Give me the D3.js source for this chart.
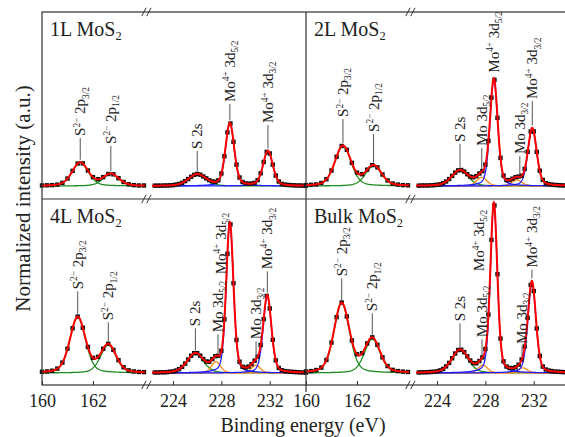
<!DOCTYPE html>
<html><head><meta charset="utf-8">
<script src="https://cdn.jsdelivr.net/npm/d3@7"></script>
<style>
html,body{margin:0;padding:0;background:#fff;}
svg, svg text{font-family:"Liberation Serif","DejaVu Serif","Times New Roman",Times,serif;}
</style></head><body>
<svg id="chart" width="565" height="437"></svg>
<script>
// ---------------- DATA ----------------
const samples = ["1L MoS_{2}", "2L MoS_{2}", "4L MoS_{2}", "Bulk MoS_{2}"];

// measured spectra (normalized intensity), S 2p window: 160.0 .. 164.0 eV, step 0.2 eV
const sStart = 160.0, sStep = 0.2;
const sData1L   = [0.003,0.004,0.005,0.008,0.018,0.043,0.087,0.129,0.130,0.089,0.051,0.039,0.051,0.069,0.067,0.045,0.023,0.010,0.005,0.003,0.003];
const sData2L   = [0.005,0.007,0.009,0.017,0.039,0.089,0.168,0.230,0.208,0.133,0.077,0.068,0.094,0.120,0.107,0.066,0.032,0.014,0.008,0.005,0.004];
const sData4L   = [0.007,0.009,0.013,0.025,0.060,0.140,0.257,0.324,0.260,0.150,0.087,0.093,0.139,0.168,0.133,0.074,0.033,0.015,0.009,0.006,0.005];
const sDataBulk = [0.009,0.011,0.017,0.031,0.075,0.175,0.321,0.405,0.325,0.187,0.108,0.114,0.170,0.205,0.162,0.090,0.040,0.018,0.011,0.008,0.006];

// measured spectra, Mo 3d / S 2s window: 222.5 .. 235.0 eV, step 0.25 eV
const moStart = 222.5, moStep = 0.25;
const moData1L   = [0.002,0.002,0.002,0.003,0.003,0.004,0.005,0.008,0.012,0.018,0.028,0.040,0.053,0.064,0.069,0.065,0.055,0.044,0.033,0.026,0.024,0.033,0.072,0.171,0.308,0.359,0.254,0.123,0.049,0.023,0.015,0.013,0.014,0.018,0.034,0.073,0.138,0.196,0.187,0.123,0.060,0.026,0.012,0.008,0.006,0.005,0.004,0.003,0.003,0.002,0.002];
const moData2L   = [0.002,0.003,0.003,0.003,0.004,0.005,0.007,0.010,0.016,0.026,0.040,0.058,0.077,0.090,0.092,0.083,0.068,0.054,0.050,0.057,0.072,0.086,0.123,0.259,0.508,0.610,0.392,0.162,0.060,0.034,0.034,0.042,0.051,0.054,0.059,0.098,0.197,0.313,0.314,0.196,0.088,0.035,0.016,0.011,0.008,0.006,0.005,0.004,0.003,0.003,0.003];
const moData4L   = [0.003,0.003,0.004,0.004,0.005,0.007,0.009,0.014,0.022,0.035,0.054,0.077,0.099,0.114,0.114,0.100,0.080,0.066,0.065,0.080,0.097,0.099,0.128,0.309,0.685,0.854,0.516,0.190,0.065,0.036,0.031,0.037,0.051,0.071,0.094,0.161,0.310,0.443,0.371,0.191,0.073,0.029,0.016,0.011,0.009,0.007,0.006,0.005,0.004,0.003,0.003];
const moDataBulk = [0.003,0.004,0.004,0.005,0.006,0.007,0.010,0.015,0.023,0.038,0.058,0.085,0.112,0.132,0.134,0.120,0.096,0.072,0.057,0.056,0.069,0.090,0.138,0.336,0.765,0.963,0.568,0.198,0.067,0.037,0.029,0.028,0.033,0.048,0.078,0.152,0.317,0.506,0.471,0.256,0.098,0.037,0.020,0.014,0.011,0.008,0.007,0.006,0.005,0.004,0.004];

// fitted components: [centre eV, height, FWHM eV] for 1L, 2L, 4L, Bulk
const s2p32  = [[161.5,0.135,0.75],[161.45,0.23,0.75],[161.4,0.32,0.72],[161.4,0.40,0.72]];
const s2p12  = [[162.7,0.068,0.75],[162.65,0.115,0.75],[162.6,0.16,0.72],[162.6,0.195,0.72]];
const s2s    = [[226.0,0.066,1.7],[225.9,0.088,1.6],[225.85,0.11,1.6],[225.9,0.13,1.6]];
const mo52   = [null,[227.7,0.05,1.0],[227.55,0.065,0.9],[227.8,0.045,0.9]];
const mo32   = [null,[230.6,0.035,1.0],[230.85,0.045,0.9],[231.1,0.03,0.9]];
const mo4p52 = [[228.7,0.36,0.85],[228.7,0.61,0.75],[228.7,0.86,0.7],[228.7,0.97,0.68]];
const mo4p32 = [[231.85,0.2,0.95],[231.88,0.33,0.85],[231.8,0.44,0.8],[231.85,0.52,0.78]];

// peak annotations: [text, energy eV, label start (intensity), leader line 1/0]
const labels1L = [["S^{2\u2212} 2p_{3/2}",161.5,0.282,1],["S^{2\u2212} 2p_{1/2}",162.7,0.236,1],["S 2s",226.0,0.207,1],["Mo^{4+} 3d_{5/2}",228.7,0.477,1],["Mo^{4+} 3d_{3/2}",231.85,0.356,1]];
const labels2L = [["S^{2\u2212} 2p_{3/2}",161.45,0.391,1],["S^{2\u2212} 2p_{1/2}",162.65,0.305,1],["S 2s",225.9,0.247,1],["Mo 3d_{5/2}",227.7,0.224,1],["Mo^{4+} 3d_{5/2}",228.7,0.645,0],["Mo 3d_{3/2}",230.85,0.178,1],["Mo^{4+} 3d_{3/2}",231.88,0.494,1]];
const labels4L = [["S^{2\u2212} 2p_{3/2}",161.4,0.475,1],["S^{2\u2212} 2p_{1/2}",162.6,0.297,1],["S 2s",225.85,0.263,1],["Mo 3d_{5/2}",227.72,0.228,1],["Mo^{4+} 3d_{5/2}",227.95,0.561,0],["Mo 3d_{3/2}",230.87,0.188,1],["Mo^{4+} 3d_{3/2}",231.8,0.59,1]];
const labelsBulk = [["S^{2\u2212} 2p_{3/2}",161.4,0.55,1],["S^{2\u2212} 2p_{1/2}",162.6,0.349,1],["S 2s",225.9,0.291,1],["Mo 3d_{5/2}",227.72,0.2,1],["Mo^{4+} 3d_{5/2}",227.47,0.579,0],["Mo 3d_{3/2}",231.03,0.16,1],["Mo^{4+} 3d_{3/2}",231.85,0.6,1]];

const sTicks = [160, 162];
const moTicks = [224, 228, 232];
const xTitle = "Binding energy (eV)";
const yTitle = "Normalized intensity (a.u.)";

// ---------------- DRAWING ----------------
const FONT = '"Liberation Serif","DejaVu Serif","Times New Roman",Times,serif';
const sData = [sData1L, sData2L, sData4L, sDataBulk];
const moData = [moData1L, moData2L, moData4L, moDataBulk];
const labels = [labels1L, labels2L, labels4L, labelsBulk];

const COL = {S:"#1f8a1f", S2s:"#1f8a1f", Mo:"#ff8c1a", Mo4:"#1c1cff", fit:"#ff0000"};
const svg = d3.select("#chart").attr("font-family", FONT);
const frameL = 42, frameT = 12, panelW = 264, rowTops = [12, 199], axisY = 385;

function pv(E, p){ const u=(E-p[0])/p[2]; return p[1]*(0.3/(1+4*u*u)+0.7*Math.exp(-4*Math.LN2*u*u)); }
function sumAt(E, comps){ return d3.sum(comps, c => pv(E, c.p)); }

function parseRich(str){
  const re=/\^\{([^}]*)\}|_\{([^}]*)\}|([^\^_]+)/g; let m; const out=[];
  while((m=re.exec(str))){ if(m[1]!==undefined) out.push({t:m[1],k:"sup"}); else if(m[2]!==undefined) out.push({t:m[2],k:"sub"}); else out.push({t:m[3],k:"n"}); }
  return out;
}
function rich(sel, str, size){
  let cur=0;
  parseRich(str).forEach(p=>{
    const target = p.k==="sup" ? -0.36*size : (p.k==="sub" ? 0.22*size : 0);
    const ts = sel.append("tspan").text(p.t).attr("dy", (target-cur).toFixed(2));
    if(p.k!=="n") ts.attr("font-size", (0.62*size).toFixed(1));
    cur = target;
  });
}

const gPlot = svg.append("g");
samples.forEach((name, i) => {
  const col = i % 2, row = Math.floor(i/2);
  const left = frameL + col*panelW, top = rowTops[row];
  const xS = d3.scaleLinear().domain([160, 164.04]).range([left, left+103]);
  const xM = d3.scaleLinear().domain([222.26, 235.0]).range([left+110, left+panelW]);
  const y = d3.scaleLinear().domain([0, 1]).range([top+174, top]);
  const g = gPlot.append("g");

  const sComps = [{p:s2p32[i],c:COL.S},{p:s2p12[i],c:COL.S}];
  const mComps = [{p:s2s[i],c:COL.S2s}];
  if(mo52[i]) mComps.push({p:mo52[i],c:COL.Mo});
  if(mo32[i]) mComps.push({p:mo32[i],c:COL.Mo});
  mComps.push({p:mo4p52[i],c:COL.Mo4},{p:mo4p32[i],c:COL.Mo4});

  const regions = [
    {x:xS, comps:sComps, data:sData[i], start:sStart, step:sStep},
    {x:xM, comps:mComps, data:moData[i], start:moStart, step:moStep}
  ];
  regions.forEach(r => {
    const dom = r.x.domain();
    const grid = d3.range(dom[0], dom[1]+1e-9, 0.02);
    const line = d3.line().x(d => r.x(d[0])).y(d => y(d[1]));
    r.comps.forEach(c => {
      g.append("path").attr("d", line(grid.map(E => [E, pv(E, c.p)])))
        .attr("fill","none").attr("stroke", c.c).attr("stroke-width",1.3);
    });
    g.append("g").selectAll("rect").data(r.data).join("rect")
      .attr("x", (d,k) => r.x(r.start + k*r.step) - 2.2)
      .attr("y", d => y(d) - 2.2)
      .attr("width", 4.4).attr("height", 4.4).attr("fill", "#111");
    g.append("path").attr("d", line(grid.map(E => [E, sumAt(E, r.comps)])))
      .attr("fill","none").attr("stroke", COL.fit).attr("stroke-width",2);
  });

  // annotations
  labels[i].forEach(l => {
    const E = l[1], inS = E < 200;
    const r = inS ? regions[0] : regions[1];
    const xx = r.x(E);
    if(l[3]){
      const yb = y(sumAt(E, r.comps) + 0.014), yt = y(l[2] - 0.006);
      g.append("line").attr("x1",xx).attr("x2",xx).attr("y1",yb).attr("y2",yt)
        .attr("stroke","#555").attr("stroke-width",1);
    }
    const t = g.append("text").attr("font-size",15).attr("fill","#222").attr("font-family", FONT)
      .attr("transform", `translate(${(xx+5).toFixed(1)},${y(l[2]+0.006).toFixed(1)}) rotate(-90)`);
    rich(t, l[0], 15);
  });

  // panel title
  const tt = g.append("text").attr("x", left+8).attr("y", top+24).attr("font-size",20)
    .attr("fill","#222").attr("font-family", FONT);
  rich(tt, name, 20);

  // bottom axes
  if(row === 1){
    const ax1 = svg.append("g").attr("transform",`translate(0,${axisY})`)
      .call(d3.axisBottom(xS).tickValues(sTicks).tickSize(-4).tickPadding(9).tickFormat(d3.format("d")));
    const ax2 = svg.append("g").attr("transform",`translate(0,${axisY})`)
      .call(d3.axisBottom(xM).tickValues(moTicks).tickSize(-4).tickPadding(9).tickFormat(d3.format("d")));
    [ax1, ax2].forEach(a => {
      a.attr("font-family", FONT).attr("font-size", 18);
      a.select(".domain").remove();
      a.selectAll("line").attr("stroke","#333");
      a.selectAll("text").attr("fill","#222");
    });
  }
});

// frame
const fr = svg.append("g").attr("stroke","#333").attr("stroke-width",1.2).attr("fill","none");
fr.append("rect").attr("x",frameL).attr("y",frameT).attr("width",2*panelW).attr("height",axisY-frameT);
fr.append("line").attr("x1",frameL+panelW).attr("x2",frameL+panelW).attr("y1",frameT).attr("y2",axisY+7);
fr.append("line").attr("x1",frameL).attr("x2",frameL+2*panelW).attr("y1",rowTops[1]).attr("y2",rowTops[1]);
// axis-break marks
[frameL+104.5, frameL+panelW+104.5].forEach(bx => {
  [frameT, rowTops[1], axisY].forEach(by => {
    [-2.6, 2.4].forEach(o => {
      fr.append("line").attr("x1", bx+o-2.2).attr("y1", by+4.2).attr("x2", bx+o+2.2).attr("y2", by-4.2)
        .attr("stroke-width",1);
    });
  });
});

// axis titles
svg.append("text").attr("x", 303).attr("y", 432).attr("text-anchor","middle").attr("font-family", FONT)
  .attr("font-size",20).attr("fill","#222").text(xTitle);
svg.append("text").attr("transform","translate(30,198.5) rotate(-90)").attr("text-anchor","middle").attr("font-family", FONT)
  .attr("font-size",21).attr("fill","#222").text(yTitle);
</script></body></html>
